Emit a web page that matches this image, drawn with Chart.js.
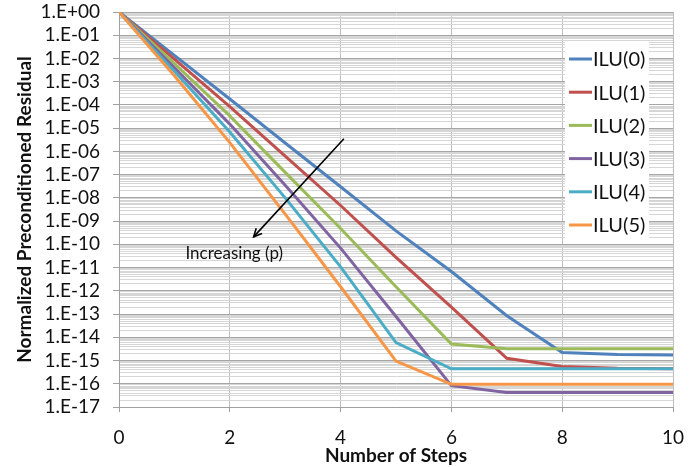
<!DOCTYPE html>
<html>
<head>
<meta charset="utf-8">
<script src="https://cdn.jsdelivr.net/npm/chart.js@4"></script>
<style>
  html, body { margin: 0; padding: 0; background: #ffffff; }
  #wrap { width: 695px; height: 467px; }
</style>
</head>
<body>
<div id="wrap"><canvas id="chart"></canvas></div>
<script>
const steps = [0, 1, 2, 3, 4, 5, 6, 7, 8, 9, 10];
const seriesNames = ['ILU(0)', 'ILU(1)', 'ILU(2)', 'ILU(3)', 'ILU(4)', 'ILU(5)'];
const ilu0 = [1, 1.35e-2, 1.8e-4, 2.3e-6, 3.0e-8, 3.8e-10, 6.8e-12, 8.5e-14, 2.2e-15, 1.8e-15, 1.75e-15];
const ilu1 = [1, 9.3e-3, 8.5e-5, 6.3e-7, 4.7e-9, 2.75e-11, 2.0e-13, 1.25e-15, 5.5e-16, 4.6e-16, 4.4e-16];
const ilu2 = [1, 6.0e-3, 3.4e-5, 1.25e-7, 4.8e-10, 1.5e-12, 5.1e-15, 3.2e-15, 3.2e-15, 3.2e-15, 3.2e-15];
const ilu3 = [1, 4.0e-3, 1.5e-5, 3.5e-8, 6.9e-11, 7.8e-14, 8.3e-17, 4.2e-17, 4.2e-17, 4.2e-17, 4.2e-17];
const ilu4 = [1, 2.8e-3, 6.9e-6, 1.0e-8, 1.07e-11, 5.9e-15, 4.4e-16, 4.4e-16, 4.4e-16, 4.4e-16, 4.4e-16];
const ilu5 = [1, 1.8e-3, 2.4e-6, 2.0e-9, 1.5e-12, 9.5e-16, 9.5e-17, 9.5e-17, 9.5e-17, 9.5e-17, 9.5e-17];
const xTicks = [0, 2, 4, 6, 8, 10];
const yTickLabels = ['1.E+00', '1.E-01', '1.E-02', '1.E-03', '1.E-04', '1.E-05', '1.E-06',
  '1.E-07', '1.E-08', '1.E-09', '1.E-10', '1.E-11', '1.E-12', '1.E-13', '1.E-14',
  '1.E-15', '1.E-16', '1.E-17'];
const lineColors = ['#4f81bd', '#c0504d', '#9bbb59', '#8064a2', '#4bacc6', '#f79646'];
const allSeries = [ilu0, ilu1, ilu2, ilu3, ilu4, ilu5];

// annotation: arrow and note, in data coordinates
const arrowFrom = { x: 4.06, y: 3.5e-6 };
const arrowTo = { x: 2.43, y: 2.1e-10 };
const noteAt = { x: 2.08, y: 3.9e-11 };
const noteText = 'Increasing (p)';

const FONT = 'Lato, "Open Sans", sans-serif';
const decadeValues = yTickLabels.map((label) => Number(label.replace('1.E', '1E')));

function isDecade(value) {
  return decadeValues.some((d) => Math.abs(value - d) < d * 1e-6);
}

const legendBox = {
  id: 'legendBox',
  afterDatasetsDraw(chart) {
    const { ctx, chartArea } = chart;
    const left = chartArea.right - 108;
    const top = chartArea.top + 30;
    ctx.save();
    ctx.fillStyle = '#ffffff';
    ctx.fillRect(left, top, 84, 198);
    ctx.font = '20px ' + FONT;
    ctx.textBaseline = 'middle';
    seriesNames.forEach((name, i) => {
      const y = top + 17 + i * 33.2;
      ctx.strokeStyle = lineColors[i];
      ctx.lineWidth = 3;
      ctx.beginPath();
      ctx.moveTo(left + 4, y);
      ctx.lineTo(left + 27, y);
      ctx.stroke();
      ctx.fillStyle = '#111111';
      ctx.fillText(name, left + 28, y + 1);
    });
    ctx.restore();
  }
};

const arrowNote = {
  id: 'arrowNote',
  afterDatasetsDraw(chart) {
    const { ctx } = chart;
    const xs = chart.scales.x;
    const ys = chart.scales.y;
    const x1 = xs.getPixelForValue(arrowFrom.x);
    const y1 = ys.getPixelForValue(arrowFrom.y);
    const x2 = xs.getPixelForValue(arrowTo.x);
    const y2 = ys.getPixelForValue(arrowTo.y);
    const angle = Math.atan2(y2 - y1, x2 - x1);
    ctx.save();
    ctx.strokeStyle = '#000000';
    ctx.lineWidth = 1.6;
    ctx.beginPath();
    ctx.moveTo(x1, y1);
    ctx.lineTo(x2, y2);
    ctx.stroke();
    ctx.beginPath();
    ctx.moveTo(x2 - 9 * Math.cos(angle - 0.45), y2 - 9 * Math.sin(angle - 0.45));
    ctx.lineTo(x2, y2);
    ctx.lineTo(x2 - 9 * Math.cos(angle + 0.45), y2 - 9 * Math.sin(angle + 0.45));
    ctx.stroke();
    ctx.fillStyle = '#111111';
    ctx.font = '17px ' + FONT;
    ctx.textAlign = 'center';
    ctx.textBaseline = 'middle';
    ctx.fillText(noteText, xs.getPixelForValue(noteAt.x), ys.getPixelForValue(noteAt.y));
    ctx.restore();
  }
};

new Chart(document.getElementById('chart'), {
  type: 'line',
  data: {
    datasets: allSeries.map((values, i) => ({
      label: seriesNames[i],
      data: values.map((v, j) => ({ x: steps[j], y: v })),
      borderColor: lineColors[i],
      backgroundColor: lineColors[i],
      borderWidth: 3,
      pointRadius: 0,
      tension: 0,
      fill: false,
      order: seriesNames.length - i
    }))
  },
  options: {
    responsive: true,
    maintainAspectRatio: false,
    animation: false,
    layout: { padding: { left: 0, right: 22, top: 12, bottom: 0 } },
    plugins: {
      legend: { display: false },
      tooltip: { enabled: false }
    },
    scales: {
      x: {
        type: 'linear',
        min: 0,
        max: 10,
        afterBuildTicks(scale) {
          scale.ticks = xTicks.map((value) => ({ value }));
        },
        afterFit(scale) {
          scale.height = 60;
          scale.paddingLeft = 0;
          scale.paddingRight = 0;
        },
        ticks: {
          color: '#111111',
          font: { family: FONT, size: 19 },
          padding: 14
        },
        grid: {
          color: '#bfbfbf',
          lineWidth: 1,
          tickLength: 5,
          tickColor: '#a0a0a0'
        },
        border: { color: '#a0a0a0' },
        title: {
          display: true,
          text: 'Number of Steps',
          color: '#111111',
          font: { family: FONT, size: 19, weight: 'bold' },
          padding: { top: 0, bottom: 0 }
        }
      },
      y: {
        type: 'logarithmic',
        min: 1e-17,
        max: 1,
        afterBuildTicks(scale) {
          const ticks = [];
          decadeValues.slice().reverse().forEach((d) => {
            ticks.push({ value: d });
            if (d < 1) {
              for (let k = 2; k <= 9; k++) {
                ticks.push({ value: d * k });
              }
            }
          });
          scale.ticks = ticks;
        },
        afterFit(scale) {
          scale.width = 119;
          scale.paddingTop = 0;
          scale.paddingBottom = 0;
        },
        ticks: {
          autoSkip: false,
          color: '#111111',
          font: { family: FONT, size: 19 },
          padding: 13,
          callback(value) {
            const idx = decadeValues.findIndex((d) => Math.abs(value - d) < d * 1e-6);
            return idx >= 0 ? yTickLabels[idx] : '';
          }
        },
        grid: {
          color: (ctx) => (ctx.tick && isDecade(ctx.tick.value) ? '#a6a6a6' : '#d6d6d6'),
          lineWidth: 1,
          tickLength: 6,
          tickColor: (ctx) => (ctx.tick && isDecade(ctx.tick.value) ? '#a0a0a0' : 'rgba(0,0,0,0)')
        },
        border: { color: '#a0a0a0' },
        title: {
          display: true,
          text: 'Normalized Preconditioned Residual',
          color: '#111111',
          font: { family: FONT, size: 19, weight: 'bold' },
          padding: { top: 13, bottom: 0 }
        }
      }
    }
  },
  plugins: [legendBox, arrowNote]
});
</script>
</body>
</html>
